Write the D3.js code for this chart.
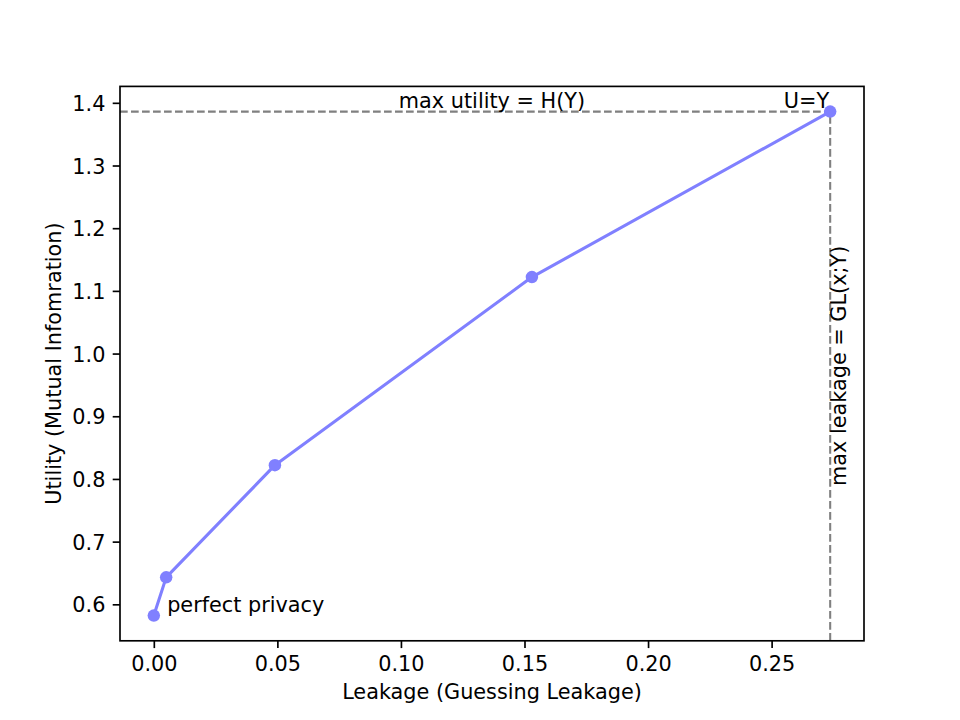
<!DOCTYPE html>
<html>
<head>
  <meta charset="utf-8">
  <title>Utility vs Leakage</title>
  <script src="https://d3js.org/d3.v7.min.js"></script>
  <style>
    body { margin: 0; background: white; }
    svg { display: block; background: white; }
    text { font-family: "DejaVu Sans", sans-serif; font-size: 20.8px; fill: #000; }
  </style>
</head>
<body>
<script>
  // Data
  var leakage = [0, 0.005, 0.049, 0.153, 0.2737];
  var utility = [0.582, 0.643, 0.822, 1.122, 1.386];
  var xTicks = [0, 0.05, 0.10, 0.15, 0.20, 0.25];
  var yTicks = [0.6, 0.7, 0.8, 0.9, 1.0, 1.1, 1.2, 1.3, 1.4];
  var xLabel = "Leakage (Guessing Leakage)";
  var yLabel = "Utility (Mutual Infomration)";

  // Consts
  var W = 960, H = 720;
  var margin = {top: 86.4, right: 96, bottom: 79.2, left: 120};
  var width = W - margin.left - margin.right;
  var height = H - margin.top - margin.bottom;
  var lineColor = "#8080ff";
  var guideColor = "#808080";

  var svg = d3.select("body").append("svg")
      .attr("width", W)
      .attr("height", H);
  var g = svg.append("g")
      .attr("transform", "translate(" + margin.left + "," + margin.top + ")");

  var points = leakage.map(function(d, i) { return {x: d, y: utility[i]}; });

  // Scales (5% margins like matplotlib)
  var xExt = d3.extent(leakage), yExt = d3.extent(utility);
  var xPad = (xExt[1] - xExt[0]) * 0.05, yPad = (yExt[1] - yExt[0]) * 0.05;
  var x = d3.scaleLinear().domain([xExt[0] - xPad, xExt[1] + xPad]).range([0, width]);
  var y = d3.scaleLinear().domain([yExt[0] - yPad, yExt[1] + yPad]).range([height, 0]);

  var xMax = xExt[1], yMax = yExt[1];

  // Guide lines
  g.append("line")
      .attr("x1", 0).attr("x2", x(xMax))
      .attr("y1", y(yMax)).attr("y2", y(yMax))
      .attr("stroke", guideColor).attr("stroke-width", 2.08)
      .attr("stroke-dasharray", "7.7,3.3");
  g.append("line")
      .attr("x1", x(xMax)).attr("x2", x(xMax))
      .attr("y1", height).attr("y2", y(yMax))
      .attr("stroke", guideColor).attr("stroke-width", 2.08)
      .attr("stroke-dasharray", "7.7,3.3");

  // Line + dots
  var line = d3.line().x(function(d) { return x(d.x); }).y(function(d) { return y(d.y); });
  g.append("path")
      .datum(points)
      .attr("d", line)
      .attr("fill", "none")
      .attr("stroke", lineColor)
      .attr("stroke-width", 3.1)
      .attr("stroke-linejoin", "round");
  g.selectAll("circle")
      .data(points)
      .enter().append("circle")
      .attr("cx", function(d) { return x(d.x); })
      .attr("cy", function(d) { return y(d.y); })
      .attr("r", 6.25)
      .attr("fill", lineColor);

  // Annotations
  g.append("text")
      .attr("x", x(xMax / 2)).attr("y", y(yMax) - 4)
      .attr("text-anchor", "middle")
      .text("max utility = H(Y)");
  g.append("text")
      .attr("x", x(xMax) - 1).attr("y", y(yMax) - 4)
      .attr("text-anchor", "end")
      .text("U=Y");
  g.append("text")
      .attr("x", x(leakage[1]) + 1).attr("y", y(yExt[0]) - 3.5)
      .text("perfect privacy");
  g.append("text")
      .attr("transform", "translate(" + (x(xMax) + 16) + "," + (y(0.8) + 7) + ") rotate(-90)")
      .text("max leakage = GL(x;Y)");

  // Axes
  var xAxis = g.append("g")
      .attr("transform", "translate(0," + height + ")")
      .call(d3.axisBottom(x).tickValues(xTicks).tickFormat(d3.format(".2f"))
              .tickSizeInner(7.3).tickSizeOuter(0).tickPadding(7.3));
  var yAxis = g.append("g")
      .call(d3.axisLeft(y).tickValues(yTicks).tickFormat(d3.format(".1f"))
              .tickSizeInner(7.3).tickSizeOuter(0).tickPadding(7.3));
  [xAxis, yAxis].forEach(function(a) {
    a.attr("font-family", null).attr("font-size", null);
    a.selectAll("text").attr("fill", "#000");
    a.selectAll(".tick line").attr("stroke", "#000").attr("stroke-width", 1.67);
    a.select(".domain").remove();
  });
  xAxis.selectAll("text").attr("dy", null).attr("y", 30.5);
  yAxis.selectAll("text").attr("dy", "0.36em");

  // Frame
  g.append("rect")
      .attr("width", width).attr("height", height)
      .attr("fill", "none").attr("stroke", "#000").attr("stroke-width", 1.67);

  // Axis labels
  g.append("text")
      .attr("x", width / 2).attr("y", height + 58)
      .attr("text-anchor", "middle")
      .text(xLabel);
  g.append("text")
      .attr("transform", "translate(" + (61 - margin.left) + "," + height / 2 + ") rotate(-90)")
      .attr("text-anchor", "middle")
      .text(yLabel);
</script>
</body>
</html>
